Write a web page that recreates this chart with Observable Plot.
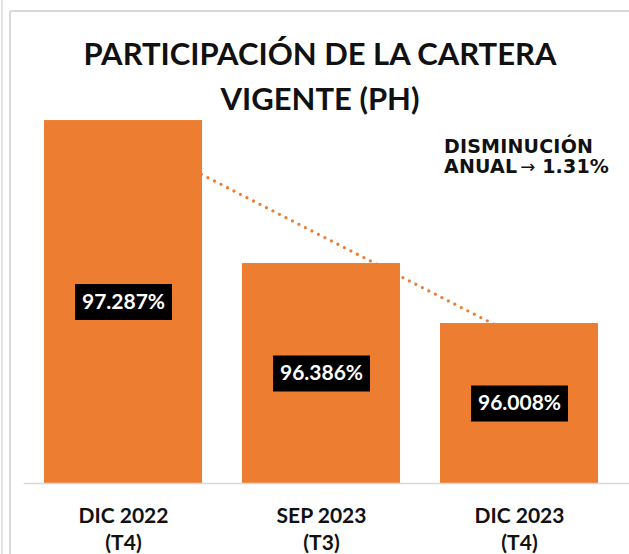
<!DOCTYPE html>
<html><head><meta charset="utf-8">
<script src="https://cdn.jsdelivr.net/npm/d3@7"></script>
<script src="https://cdn.jsdelivr.net/npm/@observablehq/plot@0.6"></script>
<style>
html,body{margin:0;padding:0;background:#fff;}
#wrap{position:relative;width:629px;height:554px;overflow:hidden;background:#fff;}
.outer{position:absolute;left:1px;top:0;width:2px;height:554px;background:#e3e3e3;}
.frame{position:absolute;left:9px;top:10px;width:800px;height:800px;border:2px solid #d9d9d9;border-radius:3px;box-sizing:border-box;}
#chart{position:absolute;left:0;top:0;}
#title{position:absolute;left:0;top:30.5px;width:640px;text-align:center;font-family:Lato,sans-serif;font-weight:700;font-size:31px;line-height:45px;color:#111;}
#note{position:absolute;left:444px;top:136px;font-family:"DejaVu Sans",sans-serif;font-weight:700;font-size:19px;line-height:20px;color:#111;white-space:nowrap;letter-spacing:0.2px;}
#note .arr{font-weight:400;font-size:18px;letter-spacing:0;margin-left:3px;}
</style></head>
<body>
<div id="wrap">
  <div class="outer"></div>
  <div class="frame"></div>
  <div id="chart"></div>
  <div id="title">PARTICIPACIÓN DE LA CARTERA<br>VIGENTE (PH)</div>
  <div id="note">DISMINUCIÓN<br>ANUAL<span class="arr">→</span> 1.31%</div>
</div>
<script>
const categories = ["DIC 2022", "SEP 2023", "DIC 2023"];
const quarters = ["(T4)", "(T3)", "(T4)"];
const values = [97.287, 96.386, 96.008];
const base = 95;

const data = categories.map((c, i) => ({cat: c, q: quarters[i], v: values[i], i}));

// linear trendline (least squares over category index)
const mx = d3.mean(data, d => d.i), my = d3.mean(values);
const slope = d3.sum(data, d => (d.i - mx) * (d.v - my)) / d3.sum(data, d => (d.i - mx) ** 2);
const trend = data.map(d => ({cat: d.cat, t: my + slope * (d.i - mx)}));

const qOf = Object.fromEntries(data.map(d => [d.cat, d.q]));
const orange = "#ED7D31";

const boxSymbol = {draw(ctx) { ctx.rect(-48.5, -18, 97, 36); }};

const chart = Plot.plot({
  width: 629,
  height: 554,
  marginTop: 86.25,
  marginBottom: 71,
  marginLeft: 23.7,
  marginRight: 10.2,
  style: {background: "transparent", overflow: "visible"},
  x: {domain: categories, paddingInner: 0.2, paddingOuter: 0.1},
  y: {domain: [base, 97.5], axis: null},
  marks: [
    Plot.line(trend, {x: "cat", y: "t", stroke: orange, strokeWidth: 3.3, strokeDasharray: "0 7.3", strokeLinecap: "round"}),
    Plot.barY(data, {x: "cat", y1: base, y2: "v", fill: orange}),
    Plot.ruleY([base], {stroke: "#d9d9d9", strokeWidth: 1.5, insetRight: -11}),
    Plot.dot(data, {x: "cat", y: d => (base + d.v) / 2, symbol: boxSymbol, fill: "#000", r: 10}),
    Plot.text(data, {x: "cat", y: d => (base + d.v) / 2, text: d => d.v.toFixed(3) + "%", fill: "#fff", fontSize: 21, fontWeight: 700, fontFamily: "Lato"}),
    Plot.axisX({tickSize: 0, tickPadding: 20, fontSize: 21, fontWeight: 700, fontFamily: "Lato", fill: "#111", lineHeight: 1.286, label: null, tickFormat: d => d + "\n" + qOf[d]})
  ]
});
document.getElementById("chart").append(chart);
</script>
</body></html>
